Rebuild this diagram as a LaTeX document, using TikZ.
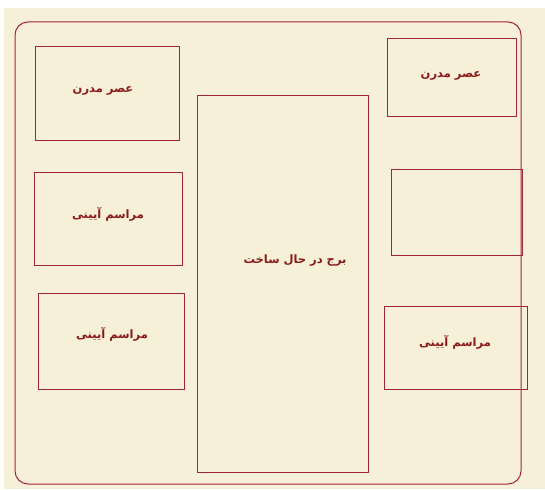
\documentclass[tikz,border=0pt]{standalone}
\usepackage{fontspec}
\newfontfamily\arabicfont[Script=Arabic]{DejaVu Sans}
\TeXXeTstate=1
\definecolor{bg}{HTML}{F6F0D9}
\definecolor{edge}{HTML}{A02535}
\definecolor{txt}{HTML}{8B1A1A}
\tikzset{
  box/.style={draw=edge, line width=1pt},
  lbl/.style={text=txt, font=\arabicfont\bfseries\fontsize{11.5}{13}\selectfont}
}
\begin{document}
\begin{tikzpicture}[x=1pt,y=-1pt]
\useasboundingbox (0,0) rectangle (545,489);
\fill[white] (0,0) rectangle (545,489);
\fill[bg] (4,8) rectangle (545,489);
\draw[edge, line width=1pt, rounded corners=13pt] (15,22) rectangle (521,484);
\draw[box] (35,47) rectangle (179,141);
\draw[box] (34,172) rectangle (182,265);
\draw[box] (38,293) rectangle (184,389);
\draw[box] (197,96) rectangle (368,472);
\draw[box] (387,39) rectangle (516,117);
\draw[box] (391,169) rectangle (522,255);
\draw[box] (384,306) rectangle (527,389);
\node[lbl] (t1) at (103,91) {\beginR عصر مدرن\endR};
\node[lbl] (t2) at (451,76) {\beginR عصر مدرن\endR};
\node[lbl] (t3) at (108,214) {\beginR مراسم آیینی\endR};
\node[lbl] (t4) at (112,334) {\beginR مراسم آیینی\endR};
\node[lbl] (t5) at (455,342) {\beginR مراسم آیینی\endR};
\node[lbl] (t6) at (295,261) {\beginR برج در حال ساخت\endR};
\end{tikzpicture}
\end{document}
